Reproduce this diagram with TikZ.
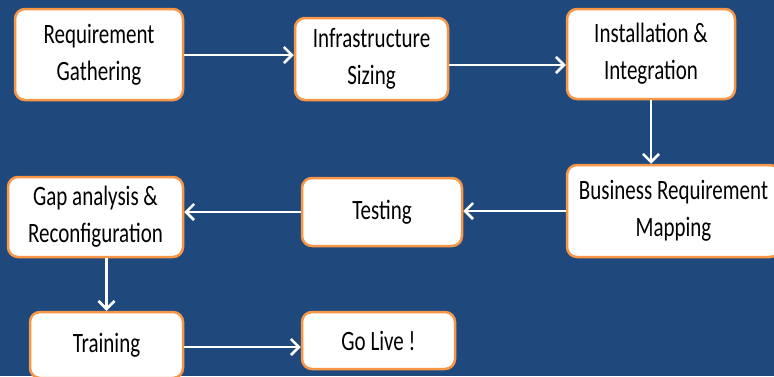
\documentclass[tikz,border=0pt]{standalone}
\usepackage{fontspec}
\setmainfont{Carlito}[FakeStretch=0.75]
\usepackage{xcolor}
\definecolor{slideBlue}{HTML}{1F497D}
\definecolor{boxOrange}{HTML}{F79646}
\usetikzlibrary{arrows.meta,calc}
\tikzset{
    stepBox/.style={draw=boxOrange, line width=2.5pt, fill=white, rounded corners=10pt,
                    align=center, inner sep=2pt, font=\fontsize{28}{37}\selectfont},
    flowArrow/.style={draw=white, line width=2.5pt, -{Straight Barb[length=8pt,width=16pt]}}
}

\begin{document}
\begin{tikzpicture}[x=1pt, y=-1pt]
  % background, fixes the page size
  \useasboundingbox (0,0) rectangle (774,376);
  \clip (0,0) rectangle (774,376);
  \fill[slideBlue] (0,0) rectangle (774,376);

  % top row
  \node[stepBox, minimum width=168pt, minimum height=91pt] (reqGather) at (99,54.5)  {Requirement\\Gathering};
  \node[stepBox, minimum width=153pt, minimum height=82pt] (infraSize) at (371.5,59) {Infrastructure\\Sizing};
  \node[stepBox, minimum width=168pt, minimum height=90pt] (install)   at (651,54)   {Installation \&\\Integration};

  % middle row
  \node[stepBox, minimum width=213pt, minimum height=92pt] (bizMap)  at (673.5,211) {Business Requirement\\Mapping};
  \node[stepBox, minimum width=160pt, minimum height=68pt] (testing) at (382,212)   {Testing};
  \node[stepBox, minimum width=175pt, minimum height=80pt] (gapRecon) at (95.5,217) {Gap analysis \&\\Reconfiguration};

  % bottom row
  \node[stepBox, minimum width=153pt, minimum height=66pt] (training) at (106.5,345) {Training};
  \node[stepBox, minimum width=153pt, minimum height=57pt] (goLive)   at (378.5,340.5) {Go Live !};

  % arrows
  \draw[flowArrow] ([yshift=-0.5pt]reqGather.east) -- ([yshift=-0.5pt]reqGather.east -| infraSize.west);
  \draw[flowArrow] ([yshift=-6pt]infraSize.east) -- ([yshift=-6pt]infraSize.east -| install.west);
  \draw[flowArrow] (install.south) -- (install.south |- bizMap.north);
  \draw[flowArrow] (bizMap.west) -- (bizMap.west -| testing.east);
  \draw[flowArrow] (testing.west) -- (testing.west -| gapRecon.east);
  \draw[flowArrow] (gapRecon.south -| training.north) -- (training.north);
  \draw[flowArrow] ([yshift=-2pt]training.east) -- ([yshift=-2pt]training.east -| goLive.west);
\end{tikzpicture}
\end{document}
